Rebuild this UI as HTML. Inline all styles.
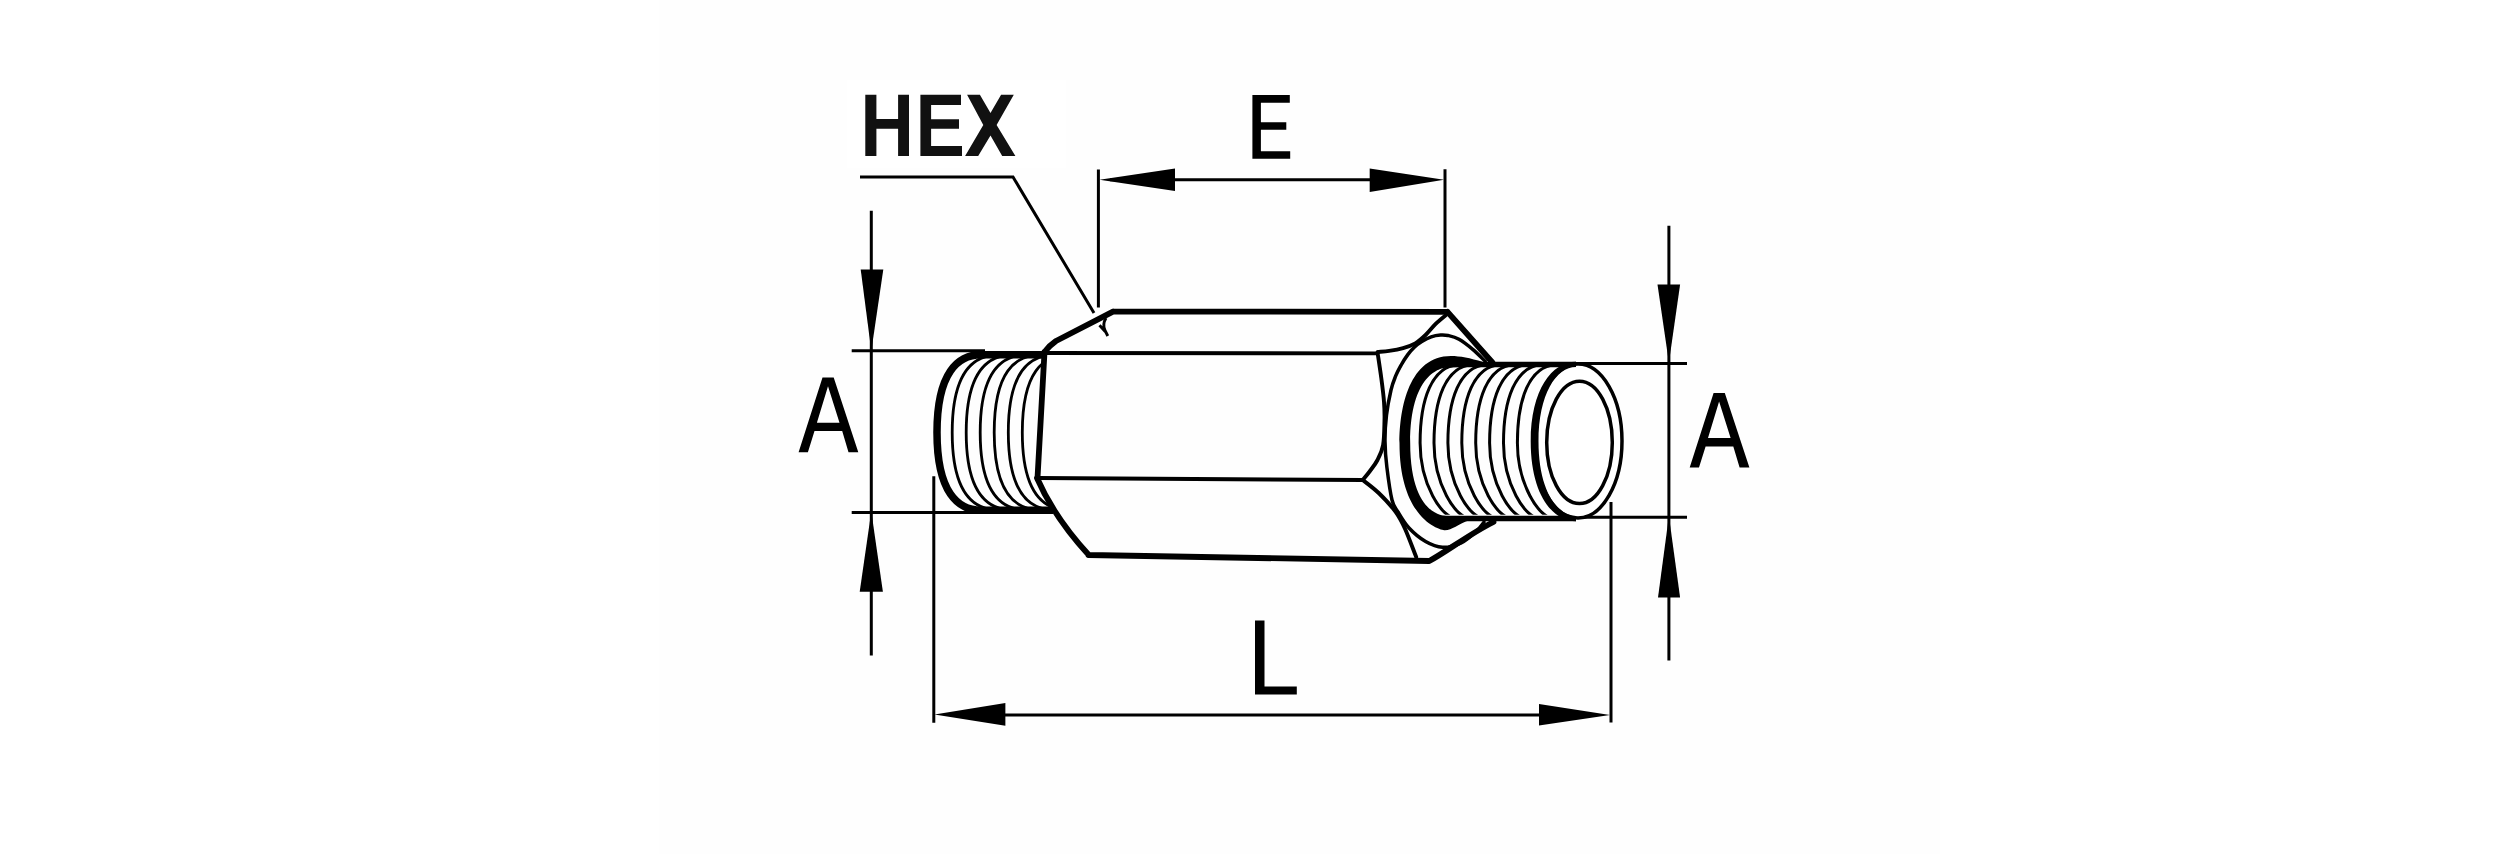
<!DOCTYPE html>
<html><head><meta charset="utf-8"><title>Hex fitting drawing</title>
<style>html,body{margin:0;padding:0;background:#fff;overflow:hidden}svg{display:block}</style>
</head><body>
<svg width="2500" height="854" viewBox="0 0 2500 854">
<rect x="0" y="0" width="2500" height="854" fill="#ffffff"/>
<rect x="659" y="0" width="1281" height="854" fill="#fefefe"/>
<rect x="847" y="80" width="219" height="88" fill="#ffffff"/>
<polygon points="865.3,94.8 876.4,94.8 876.4,118.9 898.1,118.9 898.1,94.8 909.0,94.8 909.0,155.9 898.1,155.9 898.1,128.8 876.4,128.8 876.4,155.9 865.3,155.9" fill="#111"/>
<polygon points="920.4,94.8 961.0,94.8 961.0,104.9 931.1,104.9 931.1,119.2 959.0,119.2 959.0,128.8 931.1,128.8 931.1,146.1 962.0,146.1 962.0,155.9 920.4,155.9" fill="#111"/>
<polygon points="967.1,94.8 979.9,94.8 990.5,113.1 1001.1,94.8 1013.8,94.8 996.6,125.0 1015.4,155.9 1002.2,155.9 990.5,135.6 978.2,155.9 965.1,155.9 983.3,125.0" fill="#111"/>
<polygon points="1252.4,95.0 1289.8,95.0 1289.8,102.7 1260.9,102.7 1260.9,122.3 1286.3,122.3 1286.3,129.8 1260.9,129.8 1260.9,151.2 1290.2,151.2 1290.2,158.8 1252.4,158.8" fill="#000"/>
<path d="M798.6,452.2 822.5,377.6 833.7,377.6 858.3,452.2 848.5,452.2 842.2,431.1 814.5,431.1 807.9,452.2Z M828.0,386.3 816.9,422.7 839.5,422.7Z" fill="#000" fill-rule="evenodd"/>
<path d="M1689.7,467.5 1713.6,392.9 1724.8,392.9 1749.4,467.5 1739.6,467.5 1733.3,446.4 1705.6,446.4 1699.0,467.5Z M1719.1,401.6 1708.0,438.0 1730.6,438.0Z" fill="#000" fill-rule="evenodd"/>
<polygon points="1255.0,620.6 1264.5,620.6 1264.5,686.6 1296.8,686.6 1296.8,694.6 1255.0,694.6" fill="#000"/>
<path d="M860,177 L1013,177 L1094,313 M1098.4,169.4 V307.5 M1445,169.3 V307.5 M1110,179.8 H1430 M871.3,210.7 V655.6 M851.7,350.8 H985 M851.7,512.6 H985 M933.8,476.3 V722.7 M1611,502 V722.6 M950,715 H1590 M1668.9,225.8 V660.6 M1570,363.5 H1687 M1570,517.2 H1687" fill="none" stroke="#000" stroke-width="3"/>
<polygon points="1099.5,179.8 1175.0,168.6 1175.0,191.0" fill="#000"/>
<polygon points="1444.0,179.7 1369.7,168.5 1369.7,192.0" fill="#000"/>
<polygon points="871.3,351.0 860.7,269.5 883.3,269.5" fill="#000"/>
<polygon points="871.3,511.5 859.7,591.7 882.9,591.7" fill="#000"/>
<polygon points="934.5,714.6 1005.4,703.0 1005.4,725.8" fill="#000"/>
<polygon points="1610.0,714.9 1539.0,703.9 1539.0,725.4" fill="#000"/>
<polygon points="1668.9,362.7 1657.5,284.4 1680.1,284.4" fill="#000"/>
<polygon points="1668.9,516.0 1658.0,597.6 1680.1,597.6" fill="#000"/>
<clipPath id="cl"><polygon points="930,357.5 1046,357.5 1037,478 1048,502 1053,507.5 930,507.5"/></clipPath>
<path d="M998.2,355.0 L998.2,355.0 C973.2,355.0 952.2,371.5 952.2,432.5 C952.2,493.5 973.2,510.0 998.2,510.0 L998.2,510.0 M1012.2,355.0 L1012.2,355.0 C987.2,355.0 966.2,371.5 966.2,432.5 C966.2,493.5 987.2,510.0 1012.2,510.0 L1012.2,510.0 M1026.2,355.0 L1026.2,355.0 C1001.2,355.0 980.2,371.5 980.2,432.5 C980.2,493.5 1001.2,510.0 1026.2,510.0 L1026.2,510.0 M1040.2,355.0 L1040.2,355.0 C1015.2,355.0 994.2,371.5 994.2,432.5 C994.2,493.5 1015.2,510.0 1040.2,510.0 L1040.2,510.0 M1054.3,355.0 L1054.3,355.0 C1029.3,355.0 1008.3,371.5 1008.3,432.5 C1008.3,493.5 1029.3,510.0 1054.3,510.0 L1054.3,510.0 M1068.3,355.0 L1068.3,355.0 C1043.3,355.0 1022.3,371.5 1022.3,432.5 C1022.3,493.5 1043.3,510.0 1068.3,510.0 L1068.3,510.0" fill="none" stroke="#000" stroke-width="2.8" clip-path="url(#cl)"/>
<path d="M1046,354.8 L981,354.8 C958,354.8 937,372.5 937,432.5 C937,492.5 958,510.3 981,510.3 L1053,510.3" fill="none" stroke="#000" stroke-width="7.5"/>
<path d="M1045,353 L1378,353.4 M1446.0,315.0 C1444.3,316.4 1439.3,320.4 1435.9,323.7 C1432.5,327.0 1429.0,331.7 1425.6,335.0 C1422.2,338.3 1419.0,341.2 1415.3,343.4 C1411.5,345.6 1407.5,346.9 1403.1,348.1 C1398.7,349.4 1393.3,350.3 1389.1,350.9 C1384.9,351.5 1379.7,351.7 1377.8,351.9 M1038,478 L1362.8,480 M1377.5,352.2 C1378.1,356.4 1380.1,369.2 1381.2,377.5 C1382.3,385.8 1383.5,394.7 1384.0,401.8 C1384.5,408.9 1384.7,412.8 1384.5,420.0 C1384.3,427.2 1384.3,438.3 1383.1,445.0 C1381.9,451.7 1379.7,455.7 1377.5,460.0 C1375.3,464.3 1372.5,467.7 1370.0,471.0 C1367.5,474.3 1364.0,478.5 1362.8,480.0 M1362.8,480.0 C1365.5,482.2 1373.2,487.7 1378.7,493.0 C1384.2,498.3 1391.2,505.9 1395.6,511.8 C1400.0,517.8 1401.6,521.2 1405.0,528.7 C1408.4,536.2 1414.3,552.3 1416.2,557.0" fill="none" stroke="#000" stroke-width="3.9" stroke-linejoin="round" stroke-linecap="round"/>
<path d="M1113,311.6 L1447.5,311.8 M1113,311.6 L1056,341 Q1050,345 1044.5,352 M1044.5,352 L1037.5,478 M1037,478 Q1054,517 1088.6,554.8 M1088.4,555 L1429.3,561 C1446,552 1471,533 1493.5,522 M1447.5,311.8 L1492.4,362.5" fill="none" stroke="#000" stroke-width="5.8" stroke-linejoin="round" stroke-linecap="round"/>
<path d="M1106,318 C1103,323 1103.3,327 1105,330.5 L1107.8,336 M1099.5,325.3 L1105.2,331.5" fill="none" stroke="#000" stroke-width="2.9"/>
<path d="M1485.2,361.3 C1483.2,359.4 1477.4,353.3 1473.0,349.6 C1468.6,345.9 1463.2,341.7 1459.0,339.3 C1454.8,336.9 1451.1,336.2 1448.0,335.5 C1444.9,334.8 1443.4,334.8 1440.6,335.0 C1437.8,335.2 1434.3,335.7 1431.2,336.8 C1428.1,337.9 1424.6,339.8 1421.8,341.5 C1419.0,343.2 1416.6,345.0 1414.3,347.2 C1412.0,349.4 1410.0,351.6 1407.8,354.6 C1405.6,357.6 1403.2,361.4 1401.2,365.0 C1399.2,368.6 1397.3,372.0 1395.6,376.2 C1393.9,380.4 1392.5,383.5 1391.0,390.0 C1389.5,396.5 1387.5,406.5 1386.5,415.0 C1385.5,423.5 1384.9,432.5 1385.0,441.2 C1385.1,449.9 1385.7,457.6 1386.9,467.4 C1388.1,477.2 1390.2,492.6 1392.0,500.0 C1393.8,507.4 1395.2,507.3 1398.0,512.0 C1400.8,516.7 1404.4,523.1 1409.0,528.0 C1413.6,532.9 1420.0,538.3 1425.6,541.5 C1431.2,544.7 1436.5,547.0 1442.4,547.3 C1448.3,547.5 1455.6,545.6 1461.2,543.0 C1466.8,540.4 1472.4,535.0 1476.2,531.5 C1480.0,528.0 1482.7,523.7 1484.0,522.1" fill="none" stroke="#000" stroke-width="3.5" stroke-linecap="round"/>
<clipPath id="cr"><polygon points="1410,366.8 1600,366.8 1600,514.8 1410,514.8"/></clipPath>
<path d="M1461.1,364.4 C1431.1,364.4 1420.1,401.0 1420.1,443.0 C1420.1,483.0 1441.1,518.6 1457.1,518.6 M1475.0,364.4 C1445.0,364.4 1434.0,401.0 1434.0,443.0 C1434.0,483.0 1455.0,518.6 1471.0,518.6 M1488.9,364.4 C1458.9,364.4 1447.9,401.0 1447.9,443.0 C1447.9,483.0 1468.9,518.6 1484.9,518.6 M1502.8,364.4 C1472.8,364.4 1461.8,401.0 1461.8,443.0 C1461.8,483.0 1482.8,518.6 1498.8,518.6 M1516.7,364.4 C1486.7,364.4 1475.7,401.0 1475.7,443.0 C1475.7,483.0 1496.7,518.6 1512.7,518.6 M1530.6,364.4 C1500.6,364.4 1489.6,401.0 1489.6,443.0 C1489.6,483.0 1510.6,518.6 1526.6,518.6 M1544.5,364.4 C1514.5,364.4 1503.5,401.0 1503.5,443.0 C1503.5,483.0 1524.5,518.6 1540.5,518.6 M1558.4,364.4 C1528.4,364.4 1517.4,401.0 1517.4,443.0 C1517.4,483.0 1538.4,518.6 1554.4,518.6" fill="none" stroke="#000" stroke-width="3" clip-path="url(#cr)"/>
<path d="M1483,362 C1470,358 1460,356 1451,356 C1409.4,356 1399.5,407.3 1399.5,443 C1399.5,519.3 1440,530.3 1445,530.3 C1452,530.3 1458,524 1470,520 L1470,517 L1448,516 C1448,516 1410.2,519.8 1410.2,443 C1410.2,374.5 1440,367.6 1448,367.6 L1483,366 Z" fill="#000"/>
<path d="M1446,364.4 H1576 M1440,518.6 H1576" fill="none" stroke="#000" stroke-width="5.5"/>
<ellipse cx="1578" cy="441" rx="44" ry="77" fill="#fff" stroke="#000" stroke-width="3.5"/>
<path d="M1576,361.7 C1552,361.7 1530.7,389.5 1530.7,441.5 C1530.7,493.5 1552,521.3 1576,521.3 L1576,516 C1556,516 1538.5,488.5 1538.5,441.5 C1538.5,394.5 1556,367 1576,367 Z" fill="#000"/>
<ellipse cx="1579.5" cy="442.4" rx="32.8" ry="61.2" fill="none" stroke="#000" stroke-width="3.5"/>
</svg>
</body></html>
